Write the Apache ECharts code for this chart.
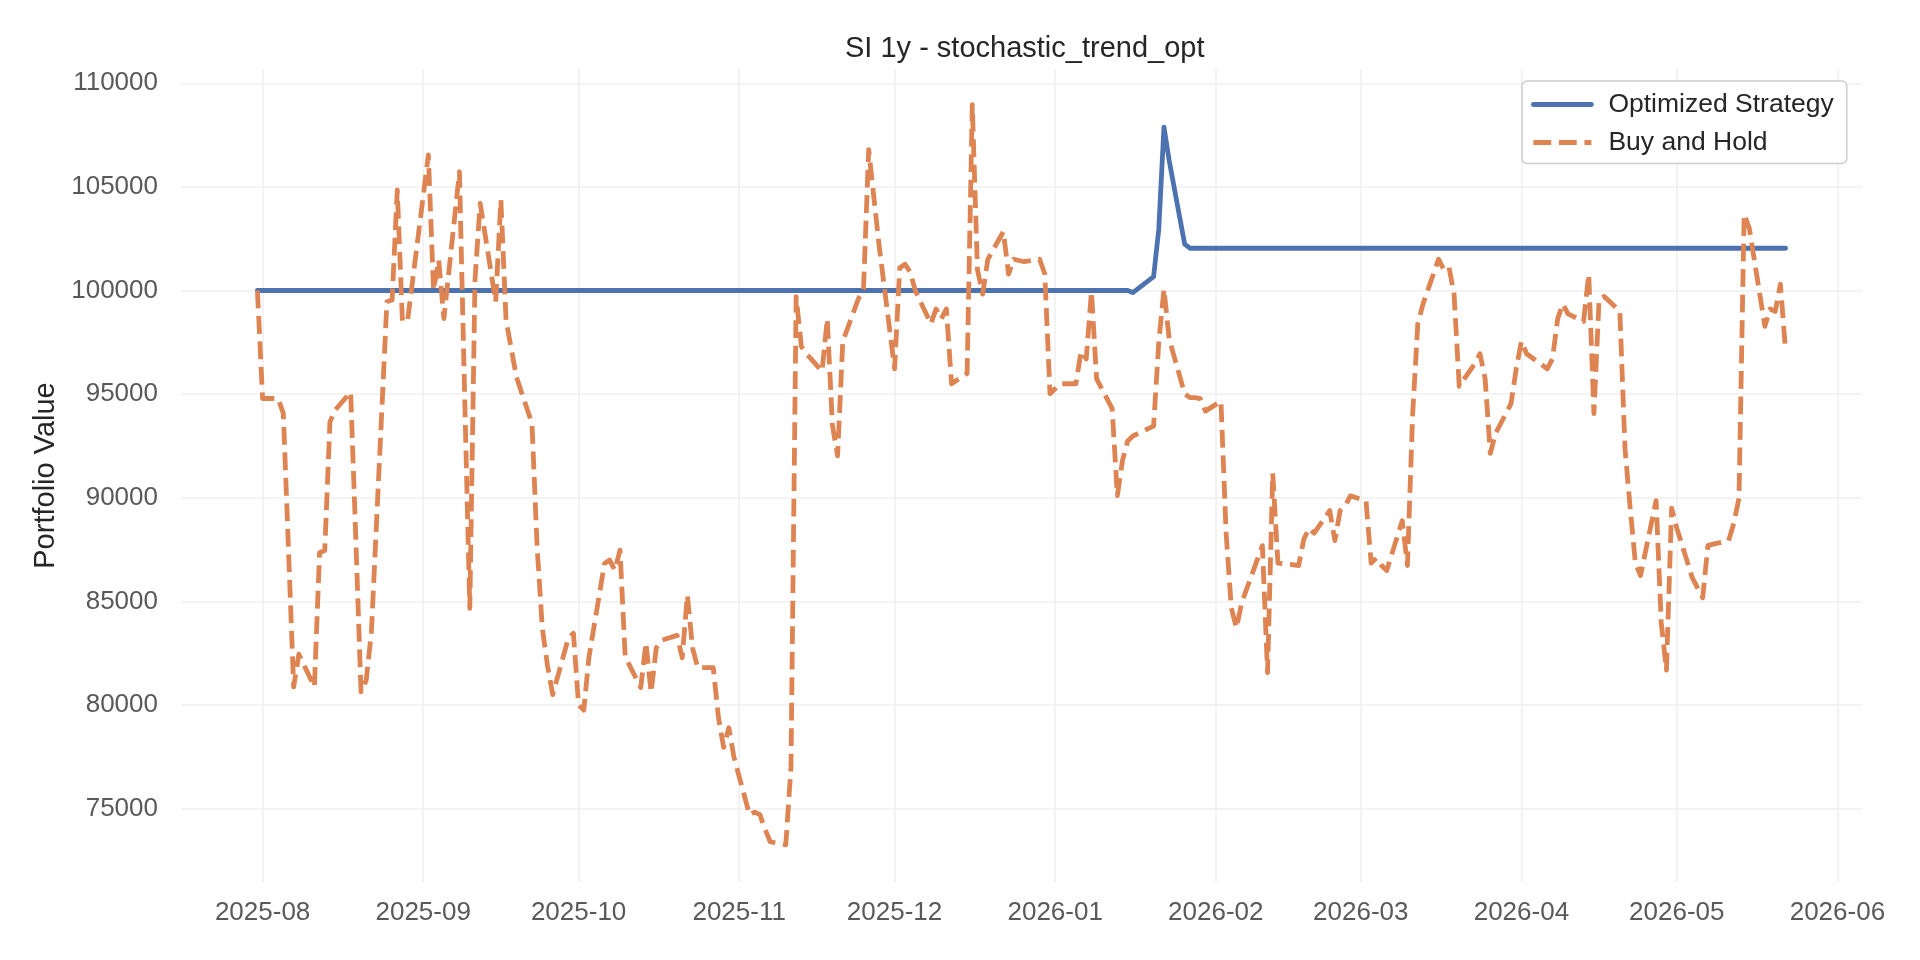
<!DOCTYPE html>
<html>
<head>
<meta charset="utf-8">
<style>
  html, body { margin: 0; padding: 0; background: #ffffff; }
  #chart { width: 1920px; height: 960px; }
</style>
<script src="https://cdn.jsdelivr.net/npm/echarts@6/dist/echarts.min.js"></script>
</head>
<body>
<div id="chart"></div>
<script>
const titleText = 'SI 1y - stochastic_trend_opt';
const seriesNames = ['Optimized Strategy', 'Buy and Hold'];
const yAxisName = 'Portfolio Value';

const dates = [
  '2025-07-31','2025-08-01','2025-08-04','2025-08-05','2025-08-06','2025-08-07','2025-08-08',
  '2025-08-11','2025-08-12','2025-08-13','2025-08-14','2025-08-15',
  '2025-08-18','2025-08-19','2025-08-20','2025-08-21','2025-08-22',
  '2025-08-25','2025-08-26','2025-08-27','2025-08-28','2025-08-29',
  '2025-09-02','2025-09-03','2025-09-04','2025-09-05',
  '2025-09-08','2025-09-09','2025-09-10','2025-09-11','2025-09-12',
  '2025-09-15','2025-09-16','2025-09-17','2025-09-18','2025-09-19',
  '2025-09-22','2025-09-23','2025-09-24','2025-09-25','2025-09-26',
  '2025-09-29','2025-09-30','2025-10-01','2025-10-02','2025-10-03',
  '2025-10-06','2025-10-07','2025-10-08','2025-10-09','2025-10-10',
  '2025-10-13','2025-10-14','2025-10-15','2025-10-16','2025-10-17',
  '2025-10-20','2025-10-21','2025-10-22','2025-10-23','2025-10-24',
  '2025-10-27','2025-10-28','2025-10-29','2025-10-30','2025-10-31',
  '2025-11-03','2025-11-04','2025-11-05','2025-11-06','2025-11-07',
  '2025-11-10','2025-11-11','2025-11-12','2025-11-13','2025-11-14',
  '2025-11-17','2025-11-18','2025-11-19','2025-11-20','2025-11-21',
  '2025-11-24','2025-11-25','2025-11-26','2025-11-28',
  '2025-12-01','2025-12-02','2025-12-03','2025-12-04','2025-12-05',
  '2025-12-08','2025-12-09','2025-12-10','2025-12-11','2025-12-12',
  '2025-12-15','2025-12-16','2025-12-17','2025-12-18','2025-12-19',
  '2025-12-22','2025-12-23','2025-12-24','2025-12-26',
  '2025-12-29','2025-12-30','2025-12-31','2026-01-02',
  '2026-01-05','2026-01-06','2026-01-07','2026-01-08','2026-01-09',
  '2026-01-12','2026-01-13','2026-01-14','2026-01-15','2026-01-16',
  '2026-01-20','2026-01-21','2026-01-22','2026-01-23',
  '2026-01-26','2026-01-27','2026-01-28','2026-01-29','2026-01-30',
  '2026-02-02','2026-02-03','2026-02-04','2026-02-05','2026-02-06',
  '2026-02-09','2026-02-10','2026-02-11','2026-02-12','2026-02-13',
  '2026-02-17','2026-02-18','2026-02-19','2026-02-20',
  '2026-02-23','2026-02-24','2026-02-25','2026-02-26','2026-02-27',
  '2026-03-02','2026-03-03','2026-03-04','2026-03-05','2026-03-06',
  '2026-03-09','2026-03-10','2026-03-11','2026-03-12','2026-03-13',
  '2026-03-16','2026-03-17','2026-03-18','2026-03-19','2026-03-20',
  '2026-03-23','2026-03-24','2026-03-25','2026-03-26','2026-03-27',
  '2026-03-30','2026-03-31','2026-04-01','2026-04-02',
  '2026-04-06','2026-04-07','2026-04-08','2026-04-09','2026-04-10',
  '2026-04-13','2026-04-14','2026-04-15','2026-04-16','2026-04-17',
  '2026-04-20','2026-04-21','2026-04-22','2026-04-23','2026-04-24',
  '2026-04-27','2026-04-28','2026-04-29','2026-04-30','2026-05-01',
  '2026-05-04','2026-05-05','2026-05-06','2026-05-07','2026-05-08',
  '2026-05-11','2026-05-12','2026-05-13','2026-05-14','2026-05-15',
  '2026-05-18','2026-05-19','2026-05-20','2026-05-21','2026-05-22'
];

const buyHold = [
  100000, 94790, 94790, 94070, 87500, 80870, 82450,
  80870, 87350, 87450, 93660, 94230,
  95100, 88000, 80630, 81190, 83500,
  99460, 99540, 104850, 98490, 98570,
  106540, 100020, 101470, 98650,
  105730, 95000, 84660, 100500, 104210,
  99460, 104370, 98570, 97200, 95830,
  93580, 87600, 83700, 81900, 80500,
  83200, 83460, 80000, 79750, 82300,
  86830, 86990, 86500, 87470, 82320,
  80840, 83000, 80600, 82760, 83120,
  83360, 82280, 85290, 82760, 81800,
  81800, 79400, 77950, 78900, 77470,
  74700, 74830, 74710, 74000, 73400,
  73250, 77000, 99700, 97300, 96950,
  96100, 98630, 93500, 92020, 97550,
  99590, 100070, 106800, 102200,
  96220, 101100, 101270, 100900, 100000,
  98390, 99110, 98630, 99110, 95500,
  96000, 108970, 101000, 99830, 101510,
  102840, 100790, 101510, 101390,
  101510, 100800, 95020, 95500,
  95500, 97070, 96700, 99950, 95740,
  94300, 90100, 91800, 92740, 92980,
  93460, 97500, 100070, 97670,
  95020, 94830, 94830, 94780, 94180,
  94660, 88290, 84690, 83720, 84930,
  87000, 87690, 81560, 91180, 86850,
  86730, 88000, 88530, 88290,
  89380, 87930, 89380, 89610, 90090,
  89850, 86850, 87090, 86730, 86490,
  88890, 86730, 94000, 98390, 99350,
  101510, 101030, 101150, 99830, 95380,
  96470, 96950, 95740, 92140, 93100,
  94540, 96220, 97550, 96950,
  96220, 96700, 98630, 99350, 98870,
  98510, 100790, 94060, 99590, 99710,
  99000, 92380, 89500, 86850, 86250,
  89860, 83960, 81680, 89500, 88530,
  86130, 85650, 85170, 87690, 87760,
  87930, 88770, 89970, 103680, 103000,
  98270, 99110, 98990, 100310, 97070
];

// Optimized strategy: flat until mid-January, then a short excursion, then flat.
const strategyChangeDates = ['2026-01-15','2026-01-16','2026-01-20','2026-01-21','2026-01-22','2026-01-23','2026-01-26','2026-01-27'];
const strategyChangeValues = [100000, 99900, 100670, 102960, 107880, 106280, 102240, 102040];
const strategyStartValue = 100000;

const yTicks = [75000, 80000, 85000, 90000, 95000, 100000, 105000, 110000];
const yMin = 71457;
const yMax = 110690;

// build strategy series aligned with dates
const strategy = [];
{
  let current = strategyStartValue;
  for (let i = 0; i < dates.length; i++) {
    const k = strategyChangeDates.indexOf(dates[i]);
    if (k >= 0) current = strategyChangeValues[k];
    strategy.push(current);
  }
}

const chart = echarts.init(document.getElementById('chart'), null, { renderer: 'canvas' });
const FONT = '"Liberation Sans", Arial, Helvetica, sans-serif';

const option = {
  animation: false,
  backgroundColor: '#ffffff',
  textStyle: { fontFamily: FONT },
  title: {
    text: titleText,
    left: 840,
    top: 28.5,
    textStyle: { fontFamily: FONT, fontSize: 29, fontWeight: 'normal', color: '#262626', lineHeight: 30 }
  },
  legend: {
    orient: 'vertical',
    left: 1522,
    top: 81,
    padding: [9.5, 13, 7, 9],
    itemWidth: 58,
    itemHeight: 14,
    itemGap: 10,
    backgroundColor: 'rgba(255,255,255,0.85)',
    borderColor: '#cccccc',
    borderWidth: 1.5,
    borderRadius: 5,
    textStyle: { fontFamily: FONT, fontSize: 26.5, color: '#262626', lineHeight: 28, padding: [0, 0, 0, 12] },
    itemStyle: { opacity: 0 },
    lineStyle: { width: 4.8 },
    data: seriesNames
  },
  grid: { left: 181, right: 58, top: 69, bottom: 78 },
  xAxis: {
    type: 'time',
    min: new Date(2025, 6, 16, 6, 0).getTime(),
    max: new Date(2026, 5, 5, 18, 0).getTime(),
    splitNumber: 11,
    axisLine: { show: false },
    axisTick: { show: false },
    axisLabel: {
      formatter: '{yyyy}-{MM}',
      fontFamily: FONT,
      fontSize: 26,
      color: '#595959',
      margin: 16,
      lineHeight: 30,
      showMinLabel: false,
      showMaxLabel: false
    },
    splitLine: { show: true, showMinLine: false, showMaxLine: false, lineStyle: { color: '#efefef', width: 1.5 } }
  },
  yAxis: {
    type: 'value',
    min: yMin,
    max: yMax,
    splitNumber: 8,
    minInterval: yTicks[1] - yTicks[0],
    maxInterval: yTicks[1] - yTicks[0],
    name: yAxisName,
    nameLocation: 'middle',
    nameRotate: 90,
    nameGap: 120,
    nameTextStyle: { fontFamily: FONT, fontSize: 29, color: '#262626' },
    axisLine: { show: false },
    axisTick: { show: false },
    axisLabel: {
      fontFamily: FONT,
      fontSize: 26,
      color: '#595959',
      margin: 23,
      padding: [3, 0, 0, 0],
      showMinLabel: false,
      showMaxLabel: false,
      formatter: function (v) { return yTicks.indexOf(v) >= 0 ? String(v) : ''; }
    },
    splitLine: { show: true, showMinLine: false, showMaxLine: false, lineStyle: { color: '#efefef', width: 1.5 } }
  },
  series: [
    {
      name: seriesNames[0],
      type: 'line',
      data: dates.map((d, i) => [d, strategy[i]]),
      showSymbol: false,
      symbol: 'none',
      lineStyle: { color: '#4c72b0', width: 4.8, join: 'round', cap: 'round' },
      itemStyle: { color: '#4c72b0' },
      z: 2
    },
    {
      name: seriesNames[1],
      type: 'line',
      data: dates.map((d, i) => [d, buyHold[i]]),
      showSymbol: false,
      symbol: 'none',
      lineStyle: { color: '#dd8452', width: 4.8, type: [17.8, 7.7], join: 'round', cap: 'butt' },
      itemStyle: { color: '#dd8452' },
      z: 3
    }
  ]
};
chart.setOption(option);
</script>
</body>
</html>
